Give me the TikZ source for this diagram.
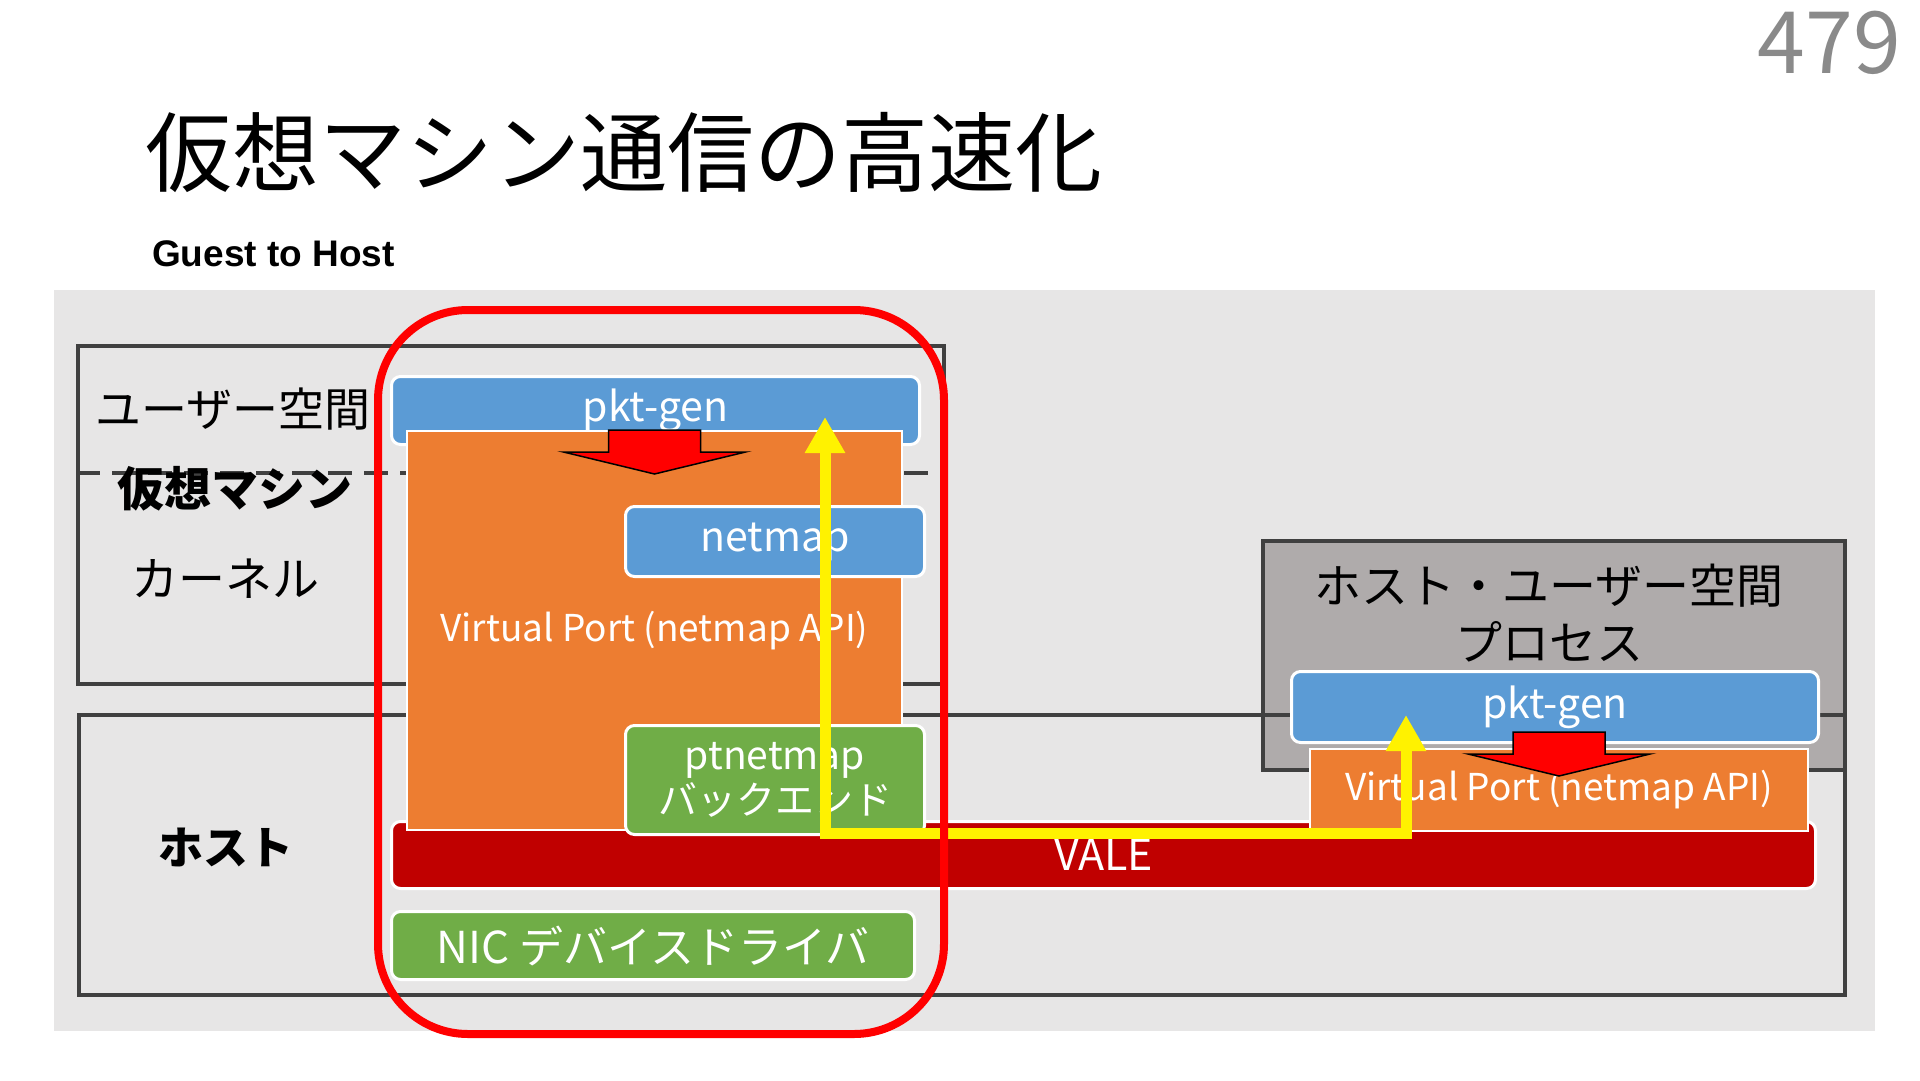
\documentclass[tikz,border=0pt]{standalone}
\usepackage{fontspec}
\setmainfont{Noto Sans CJK JP}
\newfontfamily\headfont{Liberation Sans}
\usetikzlibrary{positioning,arrows.meta}
\definecolor{slidebg}{HTML}{E7E6E6}
\definecolor{frm}{HTML}{404040}
\definecolor{hupgray}{HTML}{AFABAB}
\definecolor{blu}{HTML}{5B9BD5}
\definecolor{org}{HTML}{ED7D31}
\definecolor{grn}{HTML}{70AD47}
\definecolor{vale}{HTML}{C00000}
\definecolor{pgnum}{HTML}{8A8A8A}
\newcommand{\fsz}[1]{\fontsize{#1}{#1}\selectfont}

\begin{document}
\begin{tikzpicture}[x=1pt, y=-1pt, line join=miter,
   frame/.style={draw=frm, line width=4, inner sep=0pt, anchor=north west},
   box/.style={draw=white, text=white, inner sep=0pt, anchor=north west, align=center},
   blu/.style={box, fill=blu, line width=3, rounded corners=9},
   grn/.style={box, fill=grn, line width=3, rounded corners=9},
   org/.style={box, fill=org, line width=2},
   vbar/.style={box, fill=vale, line width=3, rounded corners=9},
   lbl/.style={inner sep=0pt, anchor=west},
   blkarrow/.pic={\filldraw[fill=red, draw=black, line width=1.5]
      (-46,0) -- (46,0) -- (46,22) -- (91,22) -- (0,44) -- (-91,22) -- (-46,22) -- cycle;}]
  \useasboundingbox (0,0) rectangle (1920,1080);
  \fill[white] (0,0) rectangle (1920,1080);

  % heading
  \node[anchor=base east, inner sep=0pt, text=pgnum] (pnum) at (1901,73) {\fsz{86}479};
  \node[lbl] (title) at (145,153) {\fsz{87}仮想マシン通信の高速化};
  \node[lbl] (sub) at (152,254) {\headfont\bfseries\fsz{37}Guest to Host};

  \fill[slidebg] (54,290) rectangle (1875,1031);

  % frames
  \node[frame, minimum width=866, minimum height=338] (vm) at (76,344) {};
  \coordinate (dl) at (76,473);
  \coordinate (dr) at (942,473);
  \draw[frm, line width=4, dash pattern=on 24pt off 12pt] (dl) -- (dr);
  \node[lbl] (usr) at (95,409) {\fsz{46}ユーザー空間};
  \node[lbl] (vmlbl) at (117,489) {\bfseries\fsz{47}仮想マシン};
  \node[lbl] (krn) at (131,579) {\fsz{47}カーネル};

  \node[frame, fill=hupgray, minimum width=582, minimum height=229] (hup) at (1261,539) {};
  \node[align=center, inner sep=0pt, font={\fontsize{47}{57}\selectfont}] (huplbl) at (1549,613)
     {ホスト・ユーザー空間\\プロセス};
  \node[frame, minimum width=1766, minimum height=280] (host) at (77,713) {};
  \node[lbl] (hostlbl) at (158,847) {\bfseries\fsz{45}ホスト};

  % boxes
  \node[vbar, minimum width=1424, minimum height=67] (vale) at (390,820) {\fsz{43}VALE};
  \node[blu, minimum width=528, minimum height=68] (gpkt) at (390,375) {\fsz{41}pkt-gen};
  \node[org, minimum width=495, minimum height=399] (gvp) at (406,430)
     {\fsz{37}Virtual Port (netmap API)};
  \node[blu, minimum width=299, minimum height=70] (nmap) at (624,505) {\fsz{41}netmap};
  \node[grn, minimum width=299, minimum height=109, below=146pt of nmap.south west, anchor=north west,
        font={\fontsize{39}{47}\selectfont}] (ptn) {ptnetmap\\[-2pt]バックエンド};
  \node[grn, minimum width=523, minimum height=68] (nic) at (390,910) {\fsz{44}NIC デバイスドライバ};
  \node[blu, minimum width=527, minimum height=71] (hpkt) at (1290,670) {\fsz{41}pkt-gen};
  \node[org, minimum width=498, minimum height=82] (hvp) at (1309,748)
     {\fsz{37}Virtual Port (netmap API)};

  \pic at (gvp.north) {blkarrow};
  \pic at ([yshift=16pt]hvp.north) {blkarrow};

  % path of the packets
  \coordinate (ytipg) at (825,417);
  \coordinate (ybl) at (825,833);
  \coordinate (ybr) at (1406,833);
  \coordinate (ytiph) at (1406,715);
  \draw[yellow, line width=11, {Triangle[width=38pt,length=36pt]}-{Triangle[width=38pt,length=36pt]}]
     (ytipg) -- (ybl) -- (ybr) -- (ytiph);

  \node[draw=red, line width=8, rounded corners=90, inner sep=0pt, anchor=north west,
        minimum width=566, minimum height=724] (focus) at (374,306) {};
\end{tikzpicture}
\end{document}
